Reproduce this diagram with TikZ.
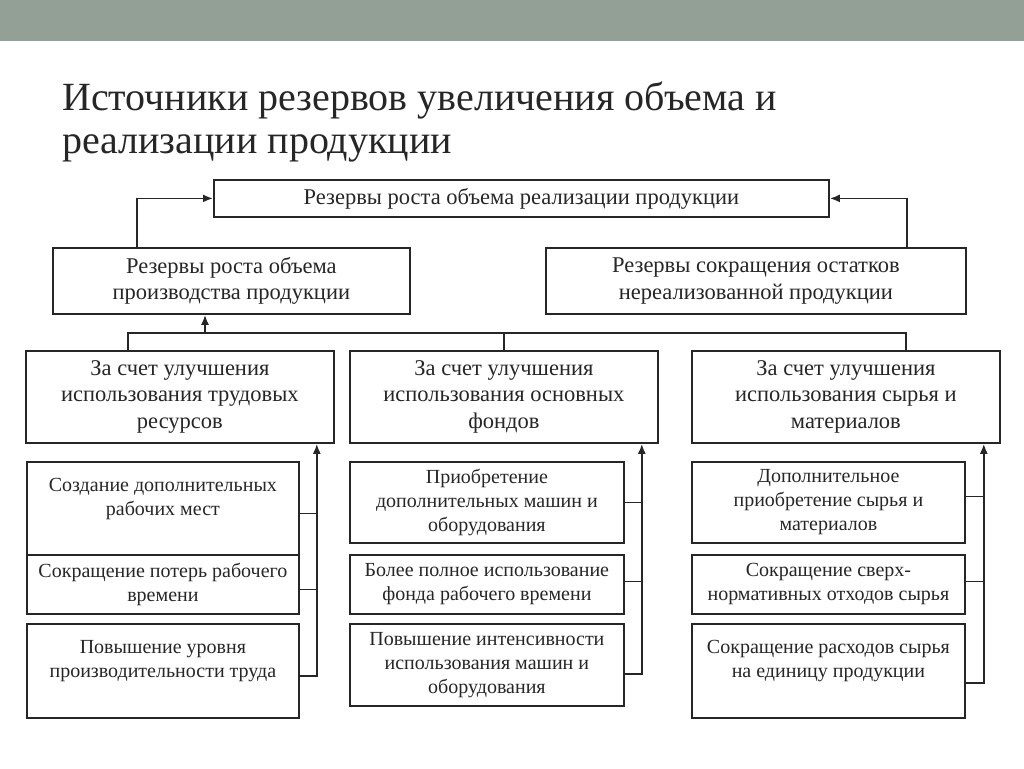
\documentclass[tikz,border=0pt]{standalone}
\usepackage{fontspec}
\setmainfont{Liberation Serif}
\usetikzlibrary{positioning,arrows.meta}
\definecolor{slidebar}{RGB}{147,160,150}
\definecolor{ink}{RGB}{38,38,38}

\begin{document}
\begin{tikzpicture}[x=1pt,y=-1pt,
  box/.style={draw=ink,line width=1.8pt,inner sep=0pt,anchor=north west,align=center,text=ink},
  big/.style={box,font=\fontsize{22.5}{26.5}\selectfont},
  small/.style={box,font=\fontsize{20}{24}\selectfont},
  lnk/.style={draw=ink,line width=1.8pt},
  arr/.style={lnk,-{Latex[length=10pt,width=8pt]}}]
\useasboundingbox (0,0) rectangle (1024,768);
\fill[slidebar] (0,0) rectangle (1024,41);
\node[anchor=north west,inner sep=0pt,align=left,text=ink,font=\fontsize{40}{43}\selectfont] (title) at (62,82)
  {Источники резервов увеличения объема и\\реализации продукции};

% upper levels
\node[big,minimum width=615,minimum height=37] (top) at (213,179) {Резервы роста объема реализации продукции};
\node[big,minimum width=357,minimum height=66] (lm) at (52,247) {Резервы роста объема\\производства продукции};
\node[big,minimum width=420,minimum height=66] (rm) at (545,247) {Резервы сокращения остатков\\нереализованной продукции};
\node[big,minimum width=308,minimum height=92] (A) at (25,350) {За счет улучшения\\использования трудовых\\ресурсов};
\node[big,minimum width=308,minimum height=92] (B) at (349,350) {За счет улучшения\\использования основных\\фондов};
\node[big,minimum width=308,minimum height=92] (C) at (691,350) {За счет улучшения\\использования сырья и\\материалов};

% lower boxes
\node[small,minimum width=272,minimum height=93] (l1) at (26,461) {Создание дополнительных\\рабочих мест\\~};
\node[small,minimum width=272,minimum height=59] (l2) at (26,554) {Сокращение потерь рабочего\\времени};
\node[small,minimum width=272,minimum height=94] (l3) at (26,623) {Повышение уровня\\производительности труда\\~};
\node[small,minimum width=274,minimum height=81] (m1) at (349,461) {Приобретение\\дополнительных машин и\\оборудования};
\node[small,minimum width=274,minimum height=59] (m2) at (349,554) {Более полное использование\\фонда рабочего времени};
\node[small,minimum width=274,minimum height=82] (m3) at (349,623) {Повышение интенсивности\\использования машин и\\оборудования};
\node[small,minimum width=273,minimum height=81] (r1) at (691,461) {Дополнительное\\приобретение сырья и\\материалов};
\node[small,minimum width=273,minimum height=59] (r2) at (691,554) {Сокращение сверх-\\нормативных отходов сырья};
\node[small,minimum width=273,minimum height=94] (r3) at (691,623) {Сокращение расходов сырья\\на единицу продукции\\~};

% arrows to the top box
\draw[arr] ([xshift=85pt]lm.north west) |- (top.west);
\draw[arr] ([xshift=-60pt]rm.north east) |- (top.east);

% bus under the middle level
\coordinate (bl) at ([shift={(103,-17)}]A.north west);
\coordinate (br) at ([shift={(-95,-17)}]C.north east);
\coordinate (up) at ([xshift=153pt]lm.south west);
\draw[lnk] ([xshift=103pt]A.north west) -- (bl) -- (br) -- ([xshift=-95pt]C.north east);
\draw[lnk] (B.north) -- (B.north |- bl);
\draw[arr] (up |- bl) -- (up);

% side rails of the lower groups
\coordinate (lv) at ([xshift=17pt]l1.east);
\coordinate (mv) at ([xshift=17pt]m1.east);
\coordinate (rv) at ([xshift=18pt]r1.east);
\draw[lnk] ([yshift=-5pt]l1.east) -- ([yshift=-5pt]lv);
\draw[lnk] ([yshift=-5pt]l2.east) -- ([yshift=-5pt]l2.east -| lv);
\draw[arr] ([yshift=-5pt]l3.east) -| (A.south -| lv);
\draw[lnk] (m1.east) -- (mv);
\draw[lnk] ([yshift=3pt]m2.east) -- ([yshift=3pt]m2.east -| mv);
\draw[arr] ([yshift=-9pt]m3.east) -| (B.south -| mv);
\draw[lnk] ([yshift=6pt]r1.east) -- ([yshift=6pt]rv);
\draw[lnk] ([yshift=3pt]r2.east) -- ([yshift=3pt]r2.east -| rv);
\draw[arr] ([yshift=-12pt]r3.east) -| (C.south -| rv);
\end{tikzpicture}
\end{document}
